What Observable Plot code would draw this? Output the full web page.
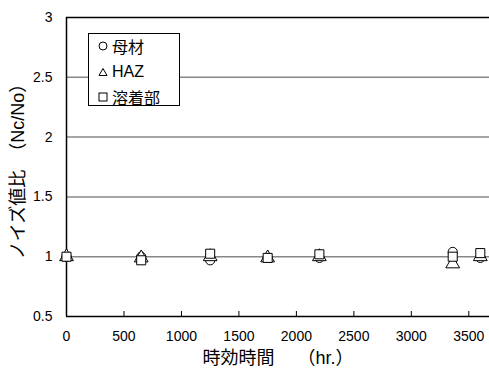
<!DOCTYPE html>
<html>
<head>
<meta charset="utf-8">
<script src="https://cdn.jsdelivr.net/npm/d3@7"></script>
<script src="https://cdn.jsdelivr.net/npm/@observablehq/plot@0.6"></script>
<style>
  html, body { margin: 0; padding: 0; background: #fff; }
  #chart { position: relative; width: 489px; height: 371px; }
  #legend {
    position: absolute; left: 88px; top: 33px; width: 92px; height: 73px;
    border: 1px solid #000; background: #fff; box-sizing: border-box;
    font-family: "Liberation Sans", "Noto Sans CJK JP", sans-serif; font-size: 16px;
  }
  #legend .row { position: absolute; left: 0; height: 20px; display: flex; align-items: center; }
  #legend svg { margin-left: 9px; margin-right: 4px; }
</style>
</head>
<body>
<div id="chart"></div>
<script>
// Aging time (hours)
const hours = [0, 650, 1250, 1750, 2200, 3360, 3600];

// Noise ratio Nc/No for each region
const baseMetal = [1.0, 1.0, 0.97, 0.99, 0.99, 1.04, 0.99];   // 母材
const haz       = [1.0, 0.99, 1.0, 0.99, 1.0, 0.94, 1.0];     // HAZ
const weldMetal = [1.0, 0.97, 1.025, 0.99, 1.02, 1.0, 1.03];  // 溶着部

const seriesNames = ["母材", "HAZ", "溶着部"];
const seriesSymbols = ["circle", "triangle", "square"];

const xTicks = [0, 500, 1000, 1500, 2000, 2500, 3000, 3500];
const yTicks = [0.5, 1, 1.5, 2, 2.5, 3];
const yGrid = [1, 1.5, 2, 2.5];

const xTitle = "時効時間　 （hr.）";
const yTitle = "ノイズ値比　（Nc/No）";

const rows = (vals, name) => hours.map((h, i) => ({hours: h, ratio: vals[i], series: name}));
const seriesData = [rows(baseMetal, seriesNames[0]), rows(haz, seriesNames[1]), rows(weldMetal, seriesNames[2])];

const font = "'Liberation Sans', 'Noto Sans CJK JP', sans-serif";

const plot = Plot.plot({
  width: 489,
  height: 371,
  marginLeft: 66,
  marginTop: 17,
  marginBottom: 55,
  marginRight: 0,
  style: {fontFamily: font, fontSize: "14px", color: "#000", background: "#fff"},
  x: {domain: [0, 3680]},
  y: {domain: [0.5, 3]},
  marks: [
    Plot.ruleY(yGrid, {stroke: "#888", strokeWidth: 1.5}),
    Plot.ruleY([3], {stroke: "#000", strokeWidth: 1.5}),
    Plot.ruleY([0.5], {stroke: "#000", strokeWidth: 1.5}),
    Plot.ruleX([0], {stroke: "#000", strokeWidth: 1.5}),
    Plot.axisX({ticks: xTicks, tickSize: -5, text: null, label: null, stroke: "#000"}),
    Plot.axisX({ticks: xTicks, tickSize: 0, tickPadding: 11, dy: 4, label: null, tickFormat: d => String(d), fontSize: 14}),
    Plot.axisY({ticks: yTicks, tickSize: 0, tickPadding: 14, label: null, tickFormat: d => String(d), fontSize: 14}),
    Plot.text([xTitle], {frameAnchor: "bottom", dy: 47, fontSize: 18, textAnchor: "middle", text: d => d}),
    Plot.text([yTitle], {frameAnchor: "left", dx: -48, rotate: -90, fontSize: 18, textAnchor: "middle", text: d => d}),
    ...seriesData.map((data, i) =>
      Plot.dot(data, {
        x: "hours", y: "ratio", symbol: () => seriesSymbols[i],
        r: seriesSymbols[i] === "circle" ? 4.6 : 5.1,
        stroke: "#000", strokeWidth: 1, fill: "#fff"
      })
    )
  ]
});

const chart = document.getElementById("chart");
chart.appendChild(plot);

// Legend box listing the three regions
const legend = document.createElement("div");
legend.id = "legend";
const symbolPaths = {
  circle: '<circle cx="5" cy="5" r="4" fill="none" stroke="#000"/>',
  triangle: '<path d="M5,1.5 L9,8.5 L1,8.5 Z" fill="none" stroke="#000"/>',
  square: '<rect x="1" y="1" width="8" height="8" fill="none" stroke="#000"/>'
};
seriesNames.forEach((name, i) => {
  const row = document.createElement("div");
  row.className = "row";
  row.style.top = (2 + i * 25.5) + "px";
  row.innerHTML = `<svg width="10" height="10">${symbolPaths[seriesSymbols[i]]}</svg><span>${name}</span>`;
  legend.appendChild(row);
});
chart.appendChild(legend);
</script>
</body>
</html>
